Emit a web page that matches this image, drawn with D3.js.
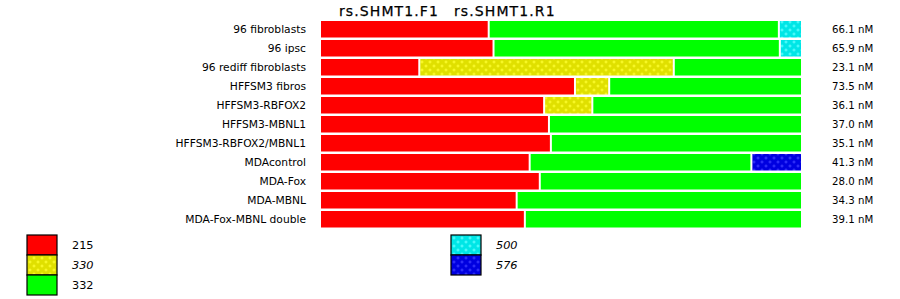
<!DOCTYPE html>
<html>
<head>
<meta charset="utf-8">
<script src="https://cdn.jsdelivr.net/npm/d3@7"></script>
<style>
  body { margin: 0; background: #fff; }
  text { font-family: "DejaVu Sans", sans-serif; fill: #000; }
</style>
</head>
<body>
<svg width="900" height="299"></svg>
<script>
// samples, top to bottom
const samples = ["96 fibroblasts", "96 ipsc", "96 rediff fibroblasts", "HFFSM3 fibros",
  "HFFSM3-RBFOX2", "HFFSM3-MBNL1", "HFFSM3-RBFOX2/MBNL1", "MDAcontrol",
  "MDA-Fox", "MDA-MBNL", "MDA-Fox-MBNL double"];
const concs = ["66.1 nM", "65.9 nM", "23.1 nM", "73.5 nM", "36.1 nM", "37.0 nM",
  "35.1 nM", "41.3 nM", "28.0 nM", "34.3 nM", "39.1 nM"];

// fraction of each allele per sample
const alleles = ["215", "330", "332", "500", "576"];
const a215 = [0.350, 0.360, 0.206, 0.529, 0.465, 0.475, 0.479, 0.435, 0.456, 0.408, 0.425];
const a330 = [0, 0, 0.528, 0.071, 0.100, 0, 0, 0, 0, 0, 0];
const a332 = [0.602, 0.594, 0.266, 0.400, 0.435, 0.525, 0.521, 0.460, 0.544, 0.592, 0.575];
const a500 = [0.048, 0.046, 0, 0, 0, 0, 0, 0, 0, 0, 0];
const a576 = [0, 0, 0, 0, 0, 0, 0, 0.105, 0, 0, 0];
const italicAlleles = ["330", "500", "576"];

const titleParts = ["rs.SHMT1.F1", "rs.SHMT1.R1"];

const svg = d3.select("svg");
const defs = svg.append("defs");

// dotted fills for some alleles
function pattern(id, base, dot) {
  const p = defs.append("pattern").attr("id", id)
    .attr("width", 8).attr("height", 8).attr("patternUnits", "userSpaceOnUse");
  p.append("rect").attr("width", 8).attr("height", 8).attr("fill", base);
  [[2, 2], [6, 6]].forEach(([cx, cy]) => {
    p.append("rect").attr("x", cx - 1.5).attr("y", cy - 0.5).attr("width", 3).attr("height", 1).attr("fill", dot);
    p.append("rect").attr("x", cx - 0.5).attr("y", cy - 1.5).attr("width", 1).attr("height", 3).attr("fill", dot);
  });
  return `url(#${id})`;
}

const color = d3.scaleOrdinal()
  .domain(alleles)
  .range(["#ff0000", pattern("p330", "#e0e000", "#ffff30"), "#00ff00",
          pattern("p500", "#00e6e6", "#60ffff"), pattern("p576", "#0000e0", "#3a3aff")]);

const rows = samples.map((s, i) => ({
  sample: s, conc: concs[i],
  "215": a215[i], "330": a330[i], "332": a332[i], "500": a500[i], "576": a576[i]
}));

const stacked = d3.stack().keys(alleles)(rows);

const x = d3.scaleLinear().domain([0, 1]).range([320, 802]);
const y = d3.scaleBand().domain(samples).range([20, 229]).paddingInner(0);

// title, two primer names
svg.append("text")
  .attr("x", 339).attr("y", 16)
  .style("font-size", "14px")
  .style("letter-spacing", "1.1px")
  .style("stroke", "#000").style("stroke-width", "0.25px")
  .text(titleParts[0]);
svg.append("text")
  .attr("x", 454).attr("y", 16)
  .style("font-size", "14px")
  .style("letter-spacing", "1.1px")
  .style("stroke", "#000").style("stroke-width", "0.25px")
  .text(titleParts[1]);

svg.append("g").selectAll("g")
  .data(stacked)
  .join("g")
  .attr("fill", d => color(d.key))
  .selectAll("rect")
  .data(d => d.filter(v => v[1] - v[0] > 0))
  .join("rect")
  .attr("x", d => x(d[0]) + 1)
  .attr("y", d => y(d.data.sample) + 1)
  .attr("width", d => Math.max(0, x(d[1]) - x(d[0]) - 2))
  .attr("height", y.bandwidth() - 2.5);

// sample names
svg.append("g").selectAll("text")
  .data(rows)
  .join("text")
  .attr("x", 306)
  .attr("y", d => y(d.sample) + y.bandwidth() / 2)
  .attr("dy", "0.35em")
  .attr("text-anchor", "end")
  .style("font-size", "10.7px")
  .text(d => d.sample);

// concentrations
svg.append("g").selectAll("text")
  .data(rows)
  .join("text")
  .attr("x", 832)
  .attr("y", d => y(d.sample) + y.bandwidth() / 2)
  .attr("dy", "0.35em")
  .style("font-size", "10.2px")
  .text(d => d.conc);

// legend
const legCols = [["215", "330", "332"], ["500", "576"]];
const legX = [27, 451];
const legY = d3.scaleBand().domain([0, 1, 2]).range([235, 295]);

legCols.forEach((col, ci) => {
  const g = svg.append("g");
  g.selectAll("rect")
    .data(col)
    .join("rect")
    .attr("x", legX[ci])
    .attr("y", (d, i) => legY(i))
    .attr("width", 30)
    .attr("height", legY.bandwidth())
    .attr("fill", d => color(d))
    .attr("stroke", "#000")
    .attr("stroke-width", 1.2);
  g.selectAll("text")
    .data(col)
    .join("text")
    .attr("x", legX[ci] + 45)
    .attr("y", (d, i) => legY(i) + legY.bandwidth() / 2)
    .attr("dy", "0.35em")
    .style("font-size", "11.3px")
    .style("font-style", d => italicAlleles.includes(d) ? "italic" : "normal")
    .text(d => d);
});
</script>
</body>
</html>
